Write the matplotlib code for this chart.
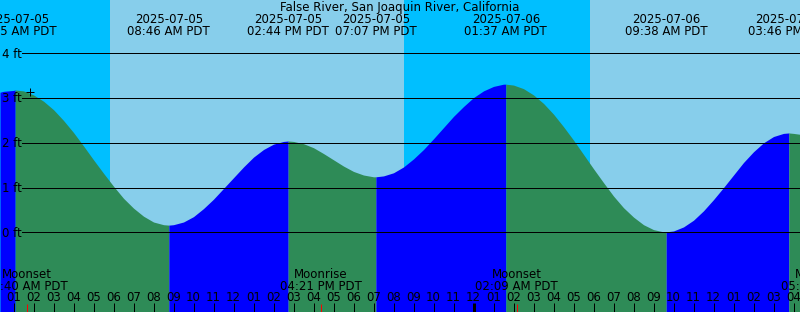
import matplotlib
matplotlib.use("Agg")
import matplotlib.pyplot as plt
import matplotlib.dates as mdates
import matplotlib.transforms as mtransforms
import pandas as pd

title = "False River, San Joaquin River, California"

# high / low tides
tide_times = ["2025-07-05 01:05", "2025-07-05 08:46", "2025-07-05 14:44",
              "2025-07-05 19:07", "2025-07-06 01:37", "2025-07-06 09:38",
              "2025-07-06 15:46"]
tide_heights = [3.18, 0.16, 2.04, 1.24, 3.31, 0.01, 2.22]

# curve heights read every half hour, 00:30 AM Jul 5 -> 04 PM Jul 6
curve_start = "2025-07-05 00:30"
curve_heights = [3.15, 3.17, 3.16, 3.07, 2.93, 2.74, 2.50, 2.23,
                 1.93, 1.62, 1.32, 1.03, 0.76, 0.54, 0.36, 0.23,
                 0.17, 0.17, 0.23, 0.35, 0.53, 0.74, 0.98, 1.22,
                 1.46, 1.68, 1.85, 1.97, 2.03, 2.03, 1.98, 1.89,
                 1.76, 1.62, 1.48, 1.36, 1.28, 1.24, 1.26, 1.33,
                 1.46, 1.64, 1.85, 2.09, 2.34, 2.59, 2.81, 3.01,
                 3.16, 3.26, 3.31, 3.29, 3.21, 3.07, 2.88, 2.64,
                 2.36, 2.06, 1.74, 1.42, 1.11, 0.81, 0.55, 0.34,
                 0.17, 0.06, 0.01, 0.03, 0.12, 0.27, 0.48, 0.73,
                 1.00, 1.28, 1.56, 1.80, 2.00, 2.14, 2.21, 2.21]
# heights at the left / right edge of the graph
edge_times = ["2025-07-05 00:19:30", "2025-07-06 16:19:30"]
edge_heights = [3.13, 2.19]

# sunrise, sunset, sunrise
sun_times = ["2025-07-05 05:50", "2025-07-05 20:30", "2025-07-06 05:50"]

moon_kinds = ["Moonset", "Moonrise", "Moonset", "Moonrise"]
moon_times = ["2025-07-05 01:40", "2025-07-05 16:21", "2025-07-06 02:09",
              "2025-07-06 17:25"]

mark_time = "2025-07-05 01:50"
mark_height = 3.13

levels = [0, 1, 2, 3, 4]

night_col = "#00BFFF"
day_col = "#87CEEB"
flood_col = "#0000FF"
ebb_col = "#2E8B57"

W, H = 800, 312
fs = 8.5
lw1 = 0.72  # 1 px


def num(t):
    return mdates.date2num(pd.to_datetime(t))


# curve points
steps = pd.date_range(curve_start, periods=len(curve_heights), freq="30min")
pts = pd.Series(list(curve_heights) + tide_heights + edge_heights,
                index=list(steps) + list(pd.to_datetime(tide_times)) +
                list(pd.to_datetime(edge_times))).sort_index()
cx = mdates.date2num(pts.index.to_pydatetime())
cy = pts.values

x0, x1 = num(edge_times[0]), num(edge_times[1])
y_top = 232.3 / 44.75
y_bot = -(H - 232.3) / 44.75

fig = plt.figure(figsize=(W / 100, H / 100), dpi=100)
ax = fig.add_axes([0, 0, 1, 1])
ax.set_axis_off()
ax.set_xlim(x0, x1)
ax.set_ylim(y_bot, y_top)

# sky
s = [num(t) for t in sun_times]
ax.axvspan(x0, s[0], color=night_col, lw=0)
ax.axvspan(s[0], s[1], color=day_col, lw=0)
ax.axvspan(s[1], s[2], color=night_col, lw=0)
ax.axvspan(s[2], x1, color=day_col, lw=0)

# water, blue while rising, green while falling
brk = [x0] + [num(t) for t in tide_times] + [x1]
for a, b in zip(brk[:-1], brk[1:]):
    m = (cx >= a) & (cx <= b)
    col = flood_col if cy[m][-1] > cy[m][0] else ebb_col
    ax.fill_between(cx[m], cy[m], y_bot, color=col, lw=0)

# depth lines
for v in levels:
    ax.axhline(v, xmin=22 / W, xmax=1, color="black", lw=lw1)
    yf = (v - y_bot) / (y_top - y_bot) - 4.3 / H
    ax.text(2 / W, yf, f"{v} ft", transform=ax.transAxes, fontsize=fs,
            ha="left", va="baseline")

ax.plot(num(mark_time), mark_height, marker="+", color="black", ms=6,
        mew=lw1)

blend_x = mtransforms.blended_transform_factory(ax.transData, ax.transAxes)

ax.text(0.5, 1 - 11 / H, title, transform=ax.transAxes, fontsize=fs,
        ha="center", va="baseline")
for t in pd.to_datetime(tide_times):
    xx = num(t)
    ax.text(xx, 1 - 23.3 / H, t.strftime("%Y-%m-%d"), transform=blend_x,
            fontsize=fs, ha="center", va="baseline")
    ax.text(xx, 1 - 35 / H, t.strftime("%I:%M %p PDT"), transform=blend_x,
            fontsize=fs, ha="center", va="baseline")

# hour ticks
tick_hours = pd.date_range("2025-07-05 00:00", "2025-07-06 17:00", freq="h")
for t in tick_hours:
    xx = num(t)
    wid = 3 * lw1 if t.hour == 0 else lw1
    ax.plot([xx, xx], [9 / H, 0], transform=blend_x, color="black", lw=wid,
            solid_capstyle="butt")
    ax.text(xx, 1 - 300.7 / H, t.strftime("%I"), transform=blend_x,
            fontsize=fs, ha="center", va="baseline")

for kind, t in zip(moon_kinds, pd.to_datetime(moon_times)):
    xx = num(t)
    ax.plot([xx, xx], [8 / H, 0], transform=blend_x, color="red", lw=lw1,
            solid_capstyle="butt")
    ax.text(xx, 1 - 278.3 / H, kind, transform=blend_x, fontsize=fs,
            ha="center", va="baseline")
    ax.text(xx, 1 - 289.7 / H, t.strftime("%I:%M %p PDT"), transform=blend_x,
            fontsize=fs, ha="center", va="baseline")

fig.savefig("out.png", dpi=100)
